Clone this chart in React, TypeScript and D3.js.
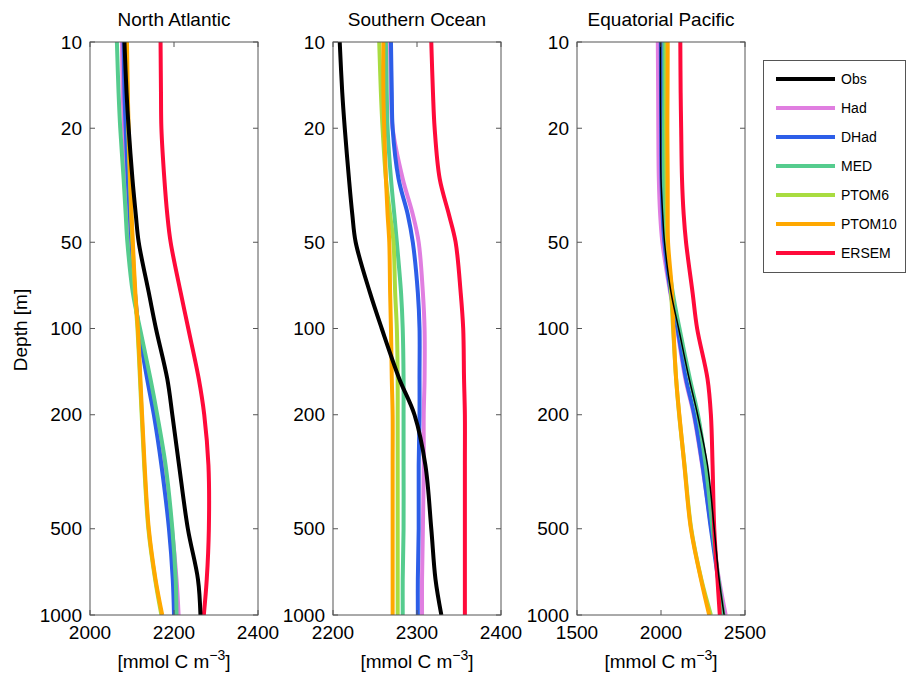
import React from "react";
import * as d3 from "d3";

const depths = [10, 15, 20, 30, 40, 50, 75, 100, 150, 200, 300, 500, 750, 1000];
const seriesNames = ["Obs", "Had", "DHad", "MED", "PTOM6", "PTOM10", "ERSEM"];
const seriesColors = ["#000000", "#e07ee0", "#2d5ee8", "#55cc8e", "#a9dc40", "#ffa800", "#ff0a3a"];

const panelTitles = ["North Atlantic", "Southern Ocean", "Equatorial Pacific"];
const panelXDomains = [[2000, 2400], [2200, 2400], [1500, 2500]];
const panelXTicks = [[2000, 2200, 2400], [2200, 2300, 2400], [1500, 2000, 2500]];
const depthTicks = [10, 20, 50, 100, 200, 500, 1000];

// North Atlantic
const naObs = [2082, 2087, 2092, 2101, 2109, 2116, 2140, 2157, 2184, 2196, 2212, 2233, 2257, 2263];
const naHad = [2076, 2078, 2081, 2086, 2092, 2096, 2106, 2116, 2138, 2156, 2175, 2195, 2206, 2211];
const naDHad = [2080, 2082, 2085, 2090, 2095, 2099, 2107, 2116, 2136, 2152, 2170, 2188, 2197, 2200];
const naMED = [2064, 2068, 2072, 2080, 2085, 2089, 2102, 2119, 2144, 2160, 2180, 2196, 2204, 2206];
const naPTOM6 = [2086, 2089, 2091, 2095, 2098, 2101, 2107, 2113, 2119, 2123, 2129, 2139, 2155, 2170];
const naPTOM10 = [2088, 2090, 2092, 2096, 2099, 2102, 2108, 2114, 2120, 2124, 2130, 2140, 2156, 2172];
const naERSEM = [2168, 2169, 2170, 2177, 2184, 2192, 2216, 2234, 2259, 2272, 2282, 2283, 2278, 2271];

// Southern Ocean
const soObs = [2208, 2211, 2214, 2219, 2223, 2227, 2244, 2258, 2279, 2297, 2310, 2317, 2322, 2329];
const soHad = [2268, 2269, 2271, 2283, 2295, 2302, 2307, 2309, 2309, 2308, 2308, 2307, 2306, 2306];
const soDHad = [2269, 2270, 2271, 2278, 2289, 2295, 2301, 2303, 2303, 2303, 2302, 2302, 2301, 2301];
const soMED = [2263, 2264, 2265, 2269, 2273, 2276, 2281, 2283, 2284, 2284, 2284, 2284, 2283, 2283];
const soPTOM6 = [2255, 2257, 2259, 2263, 2268, 2272, 2274, 2276, 2277, 2277, 2277, 2277, 2277, 2277];
const soPTOM10 = [2260, 2260, 2261, 2263, 2265, 2267, 2268, 2269, 2270, 2271, 2271, 2271, 2271, 2271];
const soERSEM = [2317, 2319, 2321, 2327, 2338, 2346, 2352, 2355, 2356, 2357, 2357, 2357, 2357, 2357];

// Equatorial Pacific
const epObs = [1997, 1997, 1998, 2000, 2010, 2021, 2060, 2105, 2168, 2218, 2277, 2317, 2346, 2376];
const epHad = [1981, 1983, 1984, 1987, 1995, 2008, 2055, 2095, 2145, 2195, 2245, 2300, 2345, 2385];
const epDHad = [1999, 2000, 2001, 2003, 2010, 2020, 2058, 2098, 2149, 2198, 2247, 2297, 2340, 2370];
const epMED = [2021, 2020, 2018, 2018, 2024, 2030, 2070, 2110, 2172, 2220, 2266, 2307, 2342, 2372];
const epPTOM6 = [2032, 2031, 2031, 2033, 2035, 2037, 2060, 2072, 2090, 2108, 2140, 2180, 2240, 2297];
const epPTOM10 = [2040, 2039, 2038, 2040, 2040, 2042, 2066, 2074, 2090, 2109, 2139, 2178, 2238, 2287];
const epERSEM = [2115, 2117, 2120, 2125, 2135, 2149, 2188, 2215, 2277, 2297, 2307, 2317, 2336, 2350];

const panelSeries = [
  [naObs, naHad, naDHad, naMED, naPTOM6, naPTOM10, naERSEM],
  [soObs, soHad, soDHad, soMED, soPTOM6, soPTOM10, soERSEM],
  [epObs, epHad, epDHad, epMED, epPTOM6, epPTOM10, epERSEM],
];

const W = 907;
const H = 674;
const panelLefts = [90, 333, 577];
const panelW = 168;
const top = 42;
const bottom = 615;
const font = "'Liberation Sans', Arial, Helvetica, sans-serif";
const fs = 19;

export default function App() {
  const y = d3.scaleLog().domain([10, 1000]).range([top, bottom]);
  return (
    <svg width={W} height={H} style={{ position: "absolute", left: 0, top: 0, background: "#fff" }}
      fontFamily={font}>
      <rect x={0} y={0} width={W} height={H} fill="#fff" />
      <defs>
        {panelLefts.map((l, i) => (
          <clipPath key={i} id={`clip${i}`}>
            <rect x={l} y={top} width={panelW} height={bottom - top} />
          </clipPath>
        ))}
      </defs>
      {panelLefts.map((left, pi) => {
        const x = d3.scaleLinear().domain(panelXDomains[pi]).range([left, left + panelW]);
        const line = d3
          .line<number>()
          .x((v) => x(v))
          .y((_, i) => y(depths[i]))
          .curve(d3.curveCatmullRom.alpha(0.5));
        const series = panelSeries[pi];
        const order = [1, 2, 3, 4, 5, 6, 0];
        return (
          <g key={pi}>
            <g clipPath={`url(#clip${pi})`}>
              {order.map((si) => (
                <path
                  key={si}
                  d={line(series[si]) || ""}
                  fill="none"
                  stroke={seriesColors[si]}
                  strokeWidth={si === 0 && pi === 2 ? 1.5 : 4}
                  strokeLinejoin="round"
                />
              ))}
            </g>
            <rect x={left} y={top} width={panelW} height={bottom - top} fill="none" stroke="#555" strokeWidth={1} />
            {depthTicks.map((d) => (
              <g key={d}>
                <line x1={left} x2={left + 5} y1={y(d)} y2={y(d)} stroke="#555" />
                <line x1={left + panelW - 5} x2={left + panelW} y1={y(d)} y2={y(d)} stroke="#555" />
                <text x={left - 8} y={y(d)} dy="0.35em" textAnchor="end" fontSize={fs} fill="#000">
                  {d}
                </text>
              </g>
            ))}
            {panelXTicks[pi].map((t) => (
              <g key={t}>
                <line x1={x(t)} x2={x(t)} y1={top} y2={top + 5} stroke="#555" />
                <line x1={x(t)} x2={x(t)} y1={bottom - 5} y2={bottom} stroke="#555" />
                <text x={x(t)} y={bottom + 24} textAnchor="middle" fontSize={fs} fill="#000">
                  {t}
                </text>
              </g>
            ))}
            <text x={left + panelW / 2} y={26} textAnchor="middle" fontSize={fs} fill="#000">
              {panelTitles[pi]}
            </text>
            <text x={left + panelW / 2} y={668} textAnchor="middle" fontSize={fs} fill="#000">
              [mmol C m
              <tspan dy={-8} fontSize={14}>−3</tspan>
              <tspan dy={8}>]</tspan>
            </text>
          </g>
        );
      })}
      <text transform={`translate(27, 330) rotate(-90)`} textAnchor="middle" fontSize={fs} fill="#000">
        Depth [m]
      </text>
      <g>
        <rect x={763.5} y={60.5} width={142} height={212} fill="#fff" stroke="#555" strokeWidth={1} />
        {seriesNames.map((n, i) => (
          <g key={n}>
            <line x1={776} x2={835} y1={79 + i * 29} y2={79 + i * 29} stroke={seriesColors[i]} strokeWidth={4} />
            <text x={841} y={79 + i * 29} dy="0.35em" fontSize={14} fill="#000">
              {n}
            </text>
          </g>
        ))}
      </g>
    </svg>
  );
}
